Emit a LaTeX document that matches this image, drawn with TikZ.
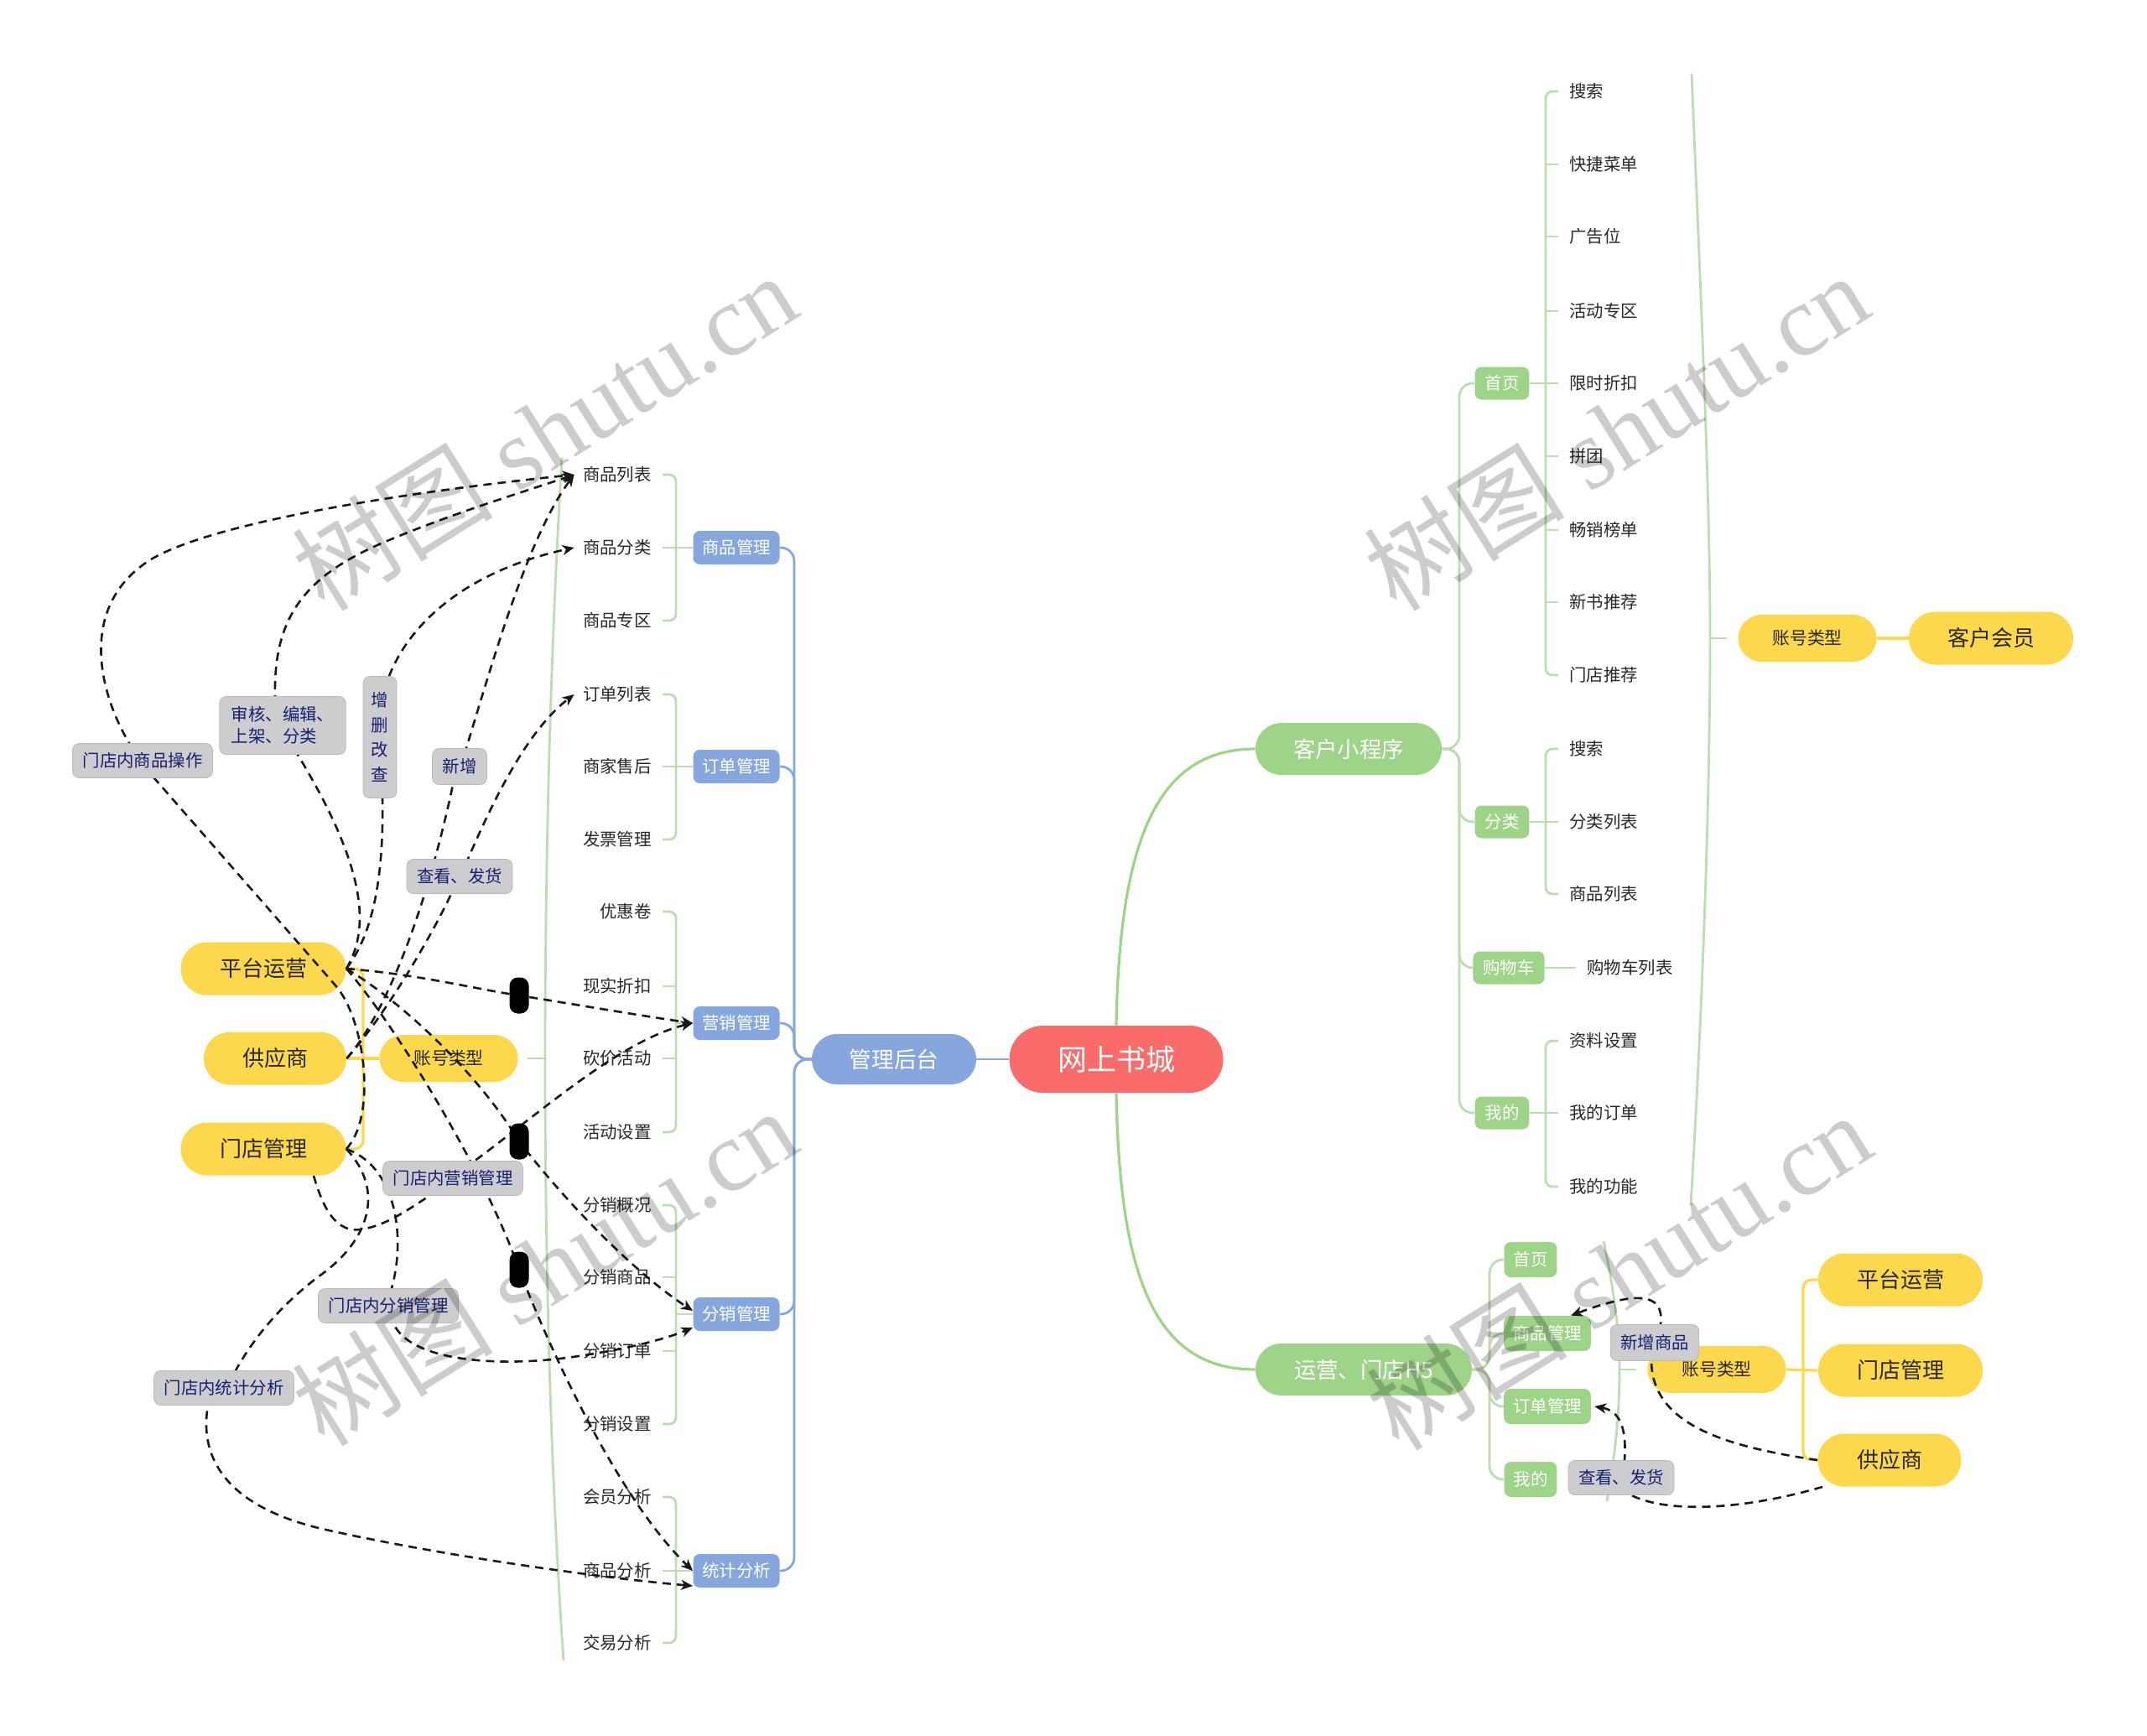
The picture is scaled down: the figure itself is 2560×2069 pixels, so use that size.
\documentclass[tikz,border=0pt]{standalone}
\usepackage{fontspec}
\setmainfont{Noto Sans CJK SC}
\newfontfamily\wmfont{Liberation Serif}
\newfontfamily\wmcjk{Noto Sans CJK SC}
\usetikzlibrary{arrows.meta,calc}
\pgfdeclarelayer{bg}\pgfdeclarelayer{fg}\pgfdeclarelayer{top}
\pgfsetlayers{bg,main,fg,top}
\definecolor{cRed}{RGB}{250,108,108}
\definecolor{cBlue}{RGB}{134,167,222}
\definecolor{cGreen}{RGB}{157,212,136}
\definecolor{cGreenL}{RGB}{188,221,176}
\definecolor{cYel}{RGB}{253,216,77}
\definecolor{cGray}{RGB}{205,205,208}
\definecolor{cGrayD}{RGB}{185,185,190}
\definecolor{cNavy}{RGB}{22,32,112}
\definecolor{cTxt}{RGB}{40,40,40}
\definecolor{cDash}{RGB}{25,25,25}
\tikzset{
 rootn/.style={fill=cRed, text=white, rounded corners=20pt, minimum width=127.5pt, minimum height=40pt, inner sep=0pt, font=\fontsize{17.5pt}{20pt}\selectfont},
 pill/.style={rounded corners=15.5pt, minimum height=31pt, inner sep=0pt},
 mgrn/.style={pill, fill=cBlue, text=white, minimum width=98pt, minimum height=30pt, rounded corners=15pt, font=\fontsize{13.3pt}{15pt}\selectfont},
 kxn/.style={pill, fill=cGreen, text=white, minimum width=111pt, font=\fontsize{13.2pt}{15pt}\selectfont},
 bsub/.style={fill=cBlue, text=white, rounded corners=4pt, minimum width=51.5pt, minimum height=20pt, inner sep=0pt, font=\fontsize{10.2pt}{12pt}\selectfont},
 gsub/.style={fill=cGreen, text=white, rounded corners=4pt, minimum height=19.5pt, inner xsep=6pt, inner ysep=0pt, font=\fontsize{10.2pt}{12pt}\selectfont},
 hsub/.style={gsub, minimum height=21pt, inner xsep=5.5pt},
 ybig/.style={pill, fill=cYel, text=cTxt, minimum width=98.5pt, minimum height=31.5pt, rounded corners=15.75pt, font=\fontsize{13pt}{15pt}\selectfont},
 ysm/.style={fill=cYel, text=cTxt, rounded corners=14pt, minimum width=82.5pt, minimum height=28pt, inner sep=0pt, font=\fontsize{10.4pt}{12pt}\selectfont},
 leaf/.style={text=cTxt, inner sep=0pt, font=\fontsize{10.2pt}{12pt}\selectfont},
 glab/.style={fill=cGray, draw=cGrayD, line width=0.4pt, text=cNavy, rounded corners=4pt, inner xsep=6pt, inner ysep=0pt, minimum height=20.5pt, font=\fontsize{10.2pt}{12pt}\selectfont},
 blk/.style={fill=black, rounded corners=5pt, minimum width=11.5pt, minimum height=21.5pt, inner sep=0pt},
 gb/.style={draw=cGreenL, line width=1.4pt},
 gm/.style={draw=cGreen, line width=1.6pt},
 bl/.style={draw=cBlue, line width=1.4pt},
 yl/.style={draw=cYel, line width=1.6pt},
 rel/.style={draw=cDash, line width=1.3pt, dash pattern=on 5pt off 3.5pt, -{Stealth[length=7pt,width=6pt,inset=2pt]}},
 wm/.style={text=black, opacity=0.2, rotate=32, inner sep=0pt, font=\wmfont\fontsize{60pt}{62pt}\selectfont}
}
\begin{document}
\begin{tikzpicture}[x=0.5pt,y=-0.5pt]
\useasboundingbox (0,0) rectangle (2560,2069);
\begin{pgfonlayer}{bg}
\fill[white] (0,0) rectangle (2560,2069);
\end{pgfonlayer}

% ---------- main nodes ----------
\node[rootn] (root) at (1331,1263) {网上书城};
\node[mgrn] (mgr) at (1066,1263) {管理后台};
\node[kxn] (kx) at (1608,893) {客户小程序};
\node[kxn, minimum width=129pt] (yy) at (1626,1633) {运营、门店H5};

% management sub nodes
\node[bsub] (spgl) at (878,653) {商品管理};
\node[bsub] (ddgl) at (878,914) {订单管理};
\node[bsub] (yxgl) at (878,1220) {营销管理};
\node[bsub] (fxgl) at (878,1567) {分销管理};
\node[bsub] (tjfx) at (878,1873) {统计分析};

\foreach \t/\y [count=\i] in {商品列表/566, 商品分类/653, 商品专区/740, 订单列表/828, 商家售后/914, 发票管理/1001, 优惠卷/1087, 现实折扣/1176, 砍价活动/1262, 活动设置/1350, 分销概况/1437, 分销商品/1523, 分销订单/1611, 分销设置/1698, 会员分析/1785, 商品分析/1873, 交易分析/1959}
  \node[leaf, anchor=east] (l\i) at (777,\y) {\t};

% client mini program
\node[gsub] (ksy) at (1791,457) {首页};
\node[gsub] (kfl) at (1791,980) {分类};
\node[gsub] (kgw) at (1799,1154) {购物车};
\node[gsub] (kwd) at (1791,1327) {我的};
\foreach \t/\y [count=\i] in {搜索/109, 快捷菜单/196, 广告位/282, 活动专区/371, 限时折扣/457, 拼团/544, 畅销榜单/632, 新书推荐/718, 门店推荐/805}
  \node[leaf, anchor=west] (r\i) at (1871,\y) {\t};
\foreach \t/\y [count=\i] in {搜索/893, 分类列表/980, 商品列表/1066}
  \node[leaf, anchor=west] (c\i) at (1871,\y) {\t};
\node[leaf, anchor=west] (cart1) at (1892,1154) {购物车列表};
\foreach \t/\y [count=\i] in {资料设置/1241, 我的订单/1327, 我的功能/1415}
  \node[leaf, anchor=west] (m\i) at (1871,\y) {\t};
\node[ysm] (zhR1) at (2155,761) {账号类型};
\node[ybig, minimum width=98pt] (khhy) at (2374,761) {客户会员};

% H5
\node[hsub] (hsy) at (1825,1502) {首页};
\node[hsub] (hsp) at (1845,1590) {商品管理};
\node[hsub] (hdd) at (1845,1677) {订单管理};
\node[hsub] (hwd) at (1825,1764) {我的};
\node[ysm] (zhR2) at (2047,1633) {账号类型};
\node[ybig, minimum width=98pt] (ptR) at (2266,1526) {平台运营};
\node[ybig, minimum width=98pt] (mdR) at (2266,1634) {门店管理};
\node[ybig, minimum width=85.5pt] (gyR) at (2253,1741) {供应商};

% left account types
\node[ybig] (ptL) at (314,1155) {平台运营};
\node[ybig, minimum width=85pt] (gyL) at (328,1262) {供应商};
\node[ybig] (mdL) at (314,1370) {门店管理};
\node[ysm] (zhL) at (535,1262) {账号类型};

\coordinate (mgrT) at (947,1263);
\coordinate (kxT) at (1740,893);
\coordinate (yyT) at (1776,1633);

% ---------- mind map lines ----------
\begin{pgfonlayer}{bg}
\draw[bl] (root.west) -- (mgr.east);
\draw[gm] (root.north) .. controls (1335,1000) and (1380,893) .. (kx.west);
\draw[gm] (root.south) .. controls (1335,1530) and (1380,1633) .. (yy.west);
\foreach \n in {spgl,ddgl,yxgl,fxgl,tjfx}
  \draw[bl, rounded corners=8pt] (\n.east) -- (\n.east -| mgrT) -- (mgrT) -- (mgr.west);
% left leaf brackets
\foreach \a/\b in {566/740, 828/1001, 1087/1350, 1437/1698, 1785/1959}
  \draw[gb, rounded corners=4pt] (790,\a) -- (806,\a) -- (806,\b) -- (790,\b);
\foreach \y in {653,914,1176,1262,1523,1611,1873}
  \draw[gb] (790,\y) -- (806,\y);
\foreach \n in {spgl,ddgl,yxgl,fxgl,tjfx}
  \draw[gb] (\n.west -| 806,0) -- (\n.west);
% client mini program
\foreach \n in {ksy,kfl,kgw,kwd}
  \draw[gb, rounded corners=8pt] (kx.east) -- (kxT) -- (kxT |- \n.west) -- (\n.west);
\draw[gb, rounded corners=4pt] (1858,109) -- (1843,109) -- (1843,805) -- (1858,805);
\foreach \y in {196,282,371,457,544,632,718} \draw[gb] (1843,\y) -- (1858,\y);
\draw[gb] (ksy.east) -- (1843,457);
\draw[gb, rounded corners=4pt] (1858,893) -- (1843,893) -- (1843,1066) -- (1858,1066);
\draw[gb] (kfl.east) -- (1858,980);
\draw[gb] (kgw.east) -- (1879,1154);
\draw[gb, rounded corners=4pt] (1858,1241) -- (1843,1241) -- (1843,1415) -- (1858,1415);
\draw[gb] (kwd.east) -- (1858,1327);
\draw[gb] (2017,88) .. controls (2030,400) and (2039,600) .. (2039,761) .. controls (2039,950) and (2030,1200) .. (2016,1437);
\draw[gb] (2039,761) -- ([xshift=-6.5pt]zhR1.west);
\draw[yl] (zhR1.east) -- (khhy.west);
% H5
\foreach \n in {hsy,hsp,hdd,hwd}
  \draw[gb, rounded corners=8pt] (yy.east) -- (yyT) -- (yyT |- \n.west) -- (\n.west);
\draw[gb] (1912,1480) .. controls (1925,1540) and (1931,1590) .. (1931,1633) .. controls (1931,1690) and (1925,1740) .. (1916,1790);
\draw[gb] (1931,1633) -- ([xshift=-6.5pt]zhR2.west);
\draw[yl] (zhR2.east) -- (mdR.west);
\draw[yl, rounded corners=5pt] (ptR.west) -- (2150,1526) -- (2150,1741) -- (gyR.west);
% left account types
\draw[yl] (zhL.west) -- (gyL.east);
\draw[yl, rounded corners=5pt] (ptL.east) -- (433,1155) -- (433,1370) -- (mdL.east);
\draw[gb] (670,546) .. controls (655,800) and (650,1050) .. (650,1262) .. controls (650,1500) and (656,1750) .. (672,1980);
\draw[gb] ([xshift=5.5pt]zhL.east) -- (650,1262);
\end{pgfonlayer}

% ---------- labels ----------
\begin{pgfonlayer}{top}
\node[glab] (opL) at (170,907) {门店内商品操作};
\node[glab, align=left, font=\fontsize{10.2pt}{13pt}\selectfont, minimum height=34.5pt, inner xsep=7pt] (shL) at (337,865) {审核、编辑、\\上架、分类};
\node[glab, align=center, font=\fontsize{10.2pt}{14.8pt}\selectfont, minimum width=20pt, inner xsep=0pt, minimum height=72.5pt] (zsL) at (453,879) {增\\删\\改\\查};
\node[glab, minimum height=21.5pt] (xzL) at (548,914) {新增};
\node[glab] (ckL) at (548,1045) {查看、发货};
\node[glab] (yxL) at (540,1405) {门店内营销管理};
\node[glab] (fxL) at (463,1557) {门店内分销管理};
\node[glab] (tjL) at (267,1655) {门店内统计分析};
\node[glab, minimum height=21.5pt] (xzspR) at (1973,1601) {新增商品};
\node[glab] (ckR) at (1933,1762) {查看、发货};
\node[blk] (b1) at (619,1187) {};
\node[blk] (b2) at (619,1361) {};
\node[blk] (b3) at (619,1514) {};
\end{pgfonlayer}

% ---------- relationship lines ----------
\begin{pgfonlayer}{fg}
% 门店内商品操作
\draw[rel] (mdL.east) .. controls (450,1330) and (435,1215) .. (400,1175) -- ([xshift=7pt]opL.south) -- ([xshift=-8pt]opL.north) .. controls (115,820) and (95,720) .. (180,667) .. controls (260,620) and (500,585) .. ([xshift=-5pt]l1.west);
% 审核、编辑
\draw[rel] (ptL.east) .. controls (440,1110) and (440,1040) .. ([xshift=9pt]shL.south) -- ([xshift=-4.5pt]shL.north) .. controls (326,740) and (360,690) .. (450,650) .. controls (530,615) and (620,588) .. ([xshift=-5pt]l1.west);
% 增删改查
\draw[rel] (ptL.east) .. controls (440,1120) and (458,1060) .. ([xshift=1.5pt]zsL.south) -- ([xshift=5.5pt]zsL.north) .. controls (490,740) and (560,680) .. ([xshift=-5pt]l2.west);
% 新增
\draw[rel] (gyL.east) .. controls (455,1215) and (505,1100) .. ([xshift=-4pt]xzL.south) -- ([xshift=4pt]xzL.north) .. controls (590,780) and (630,640) .. ([xshift=-5pt]l1.west);
% 查看、发货
\draw[rel] (gyL.east) .. controls (460,1210) and (515,1115) .. ([xshift=-5pt]ckL.south) -- ([xshift=5pt]ckL.north) .. controls (590,950) and (630,870) .. ([xshift=-5pt]l4.west);
% platform -> marketing / distribution / statistics
\draw[rel] (ptL.east) .. controls (500,1162) and (560,1178) .. (b1.center) .. controls (700,1200) and (770,1212) .. (yxgl.west);
\draw[rel] (ptL.east) .. controls (480,1195) and (570,1280) .. (b2.center) .. controls (680,1440) and (760,1520) .. ([yshift=2pt]fxgl.west);
\draw[rel] (ptL.east) .. controls (470,1220) and (580,1400) .. (b3.center) .. controls (660,1620) and (740,1790) .. (tjfx.west);
% 门店内营销管理
\draw[rel] ([xshift=30pt]mdL.south) .. controls (385,1440) and (400,1470) .. (430,1466) .. controls (460,1462) and (490,1440) .. ([xshift=-14pt]yxL.south) -- ([xshift=13pt]yxL.north) .. controls (640,1330) and (740,1240) .. (yxgl.west);
% 门店内分销管理
\draw[rel] (mdL.east) .. controls (470,1390) and (485,1470) .. ([xshift=2pt]fxL.north) -- ([xshift=3pt]fxL.south) .. controls (490,1625) and (600,1630) .. (683,1618) .. controls (740,1610) and (790,1598) .. ([yshift=-8pt]fxgl.west);
% 门店内统计分析
\draw[rel] (mdL.east) .. controls (460,1420) and (440,1480) .. (380,1522) .. controls (330,1560) and (300,1600) .. ([xshift=7pt]tjL.north) -- ([xshift=-9.5pt]tjL.south) .. controls (240,1720) and (250,1790) .. (380,1822) .. controls (500,1850) and (700,1880) .. ([yshift=-9pt]tjfx.west);
% right side
\draw[rel] (gyR.west) .. controls (2060,1725) and (1970,1700) .. ([xshift=-2pt]xzspR.south) -- ([xshift=3.5pt]xzspR.north) .. controls (1985,1540) and (1950,1540) .. ([xshift=14pt]hsp.north);
\draw[rel] ([xshift=3pt]gyR.south west) .. controls (2080,1800) and (1990,1805) .. ([xshift=6pt]ckR.south) -- ([xshift=2pt]ckR.north) .. controls (1940,1700) and (1930,1682) .. ([xshift=2pt]hdd.east);
\end{pgfonlayer}

% ---------- watermark ----------
\begin{pgfonlayer}{top}
\foreach \x/\y [count=\i] in {649/514, 649/1510, 1927/514, 1930/1515}
  \node[wm] (wm\i) at (\x,\y) {{\wmcjk 树图} shutu.cn};
\end{pgfonlayer}
\end{tikzpicture}
\end{document}
